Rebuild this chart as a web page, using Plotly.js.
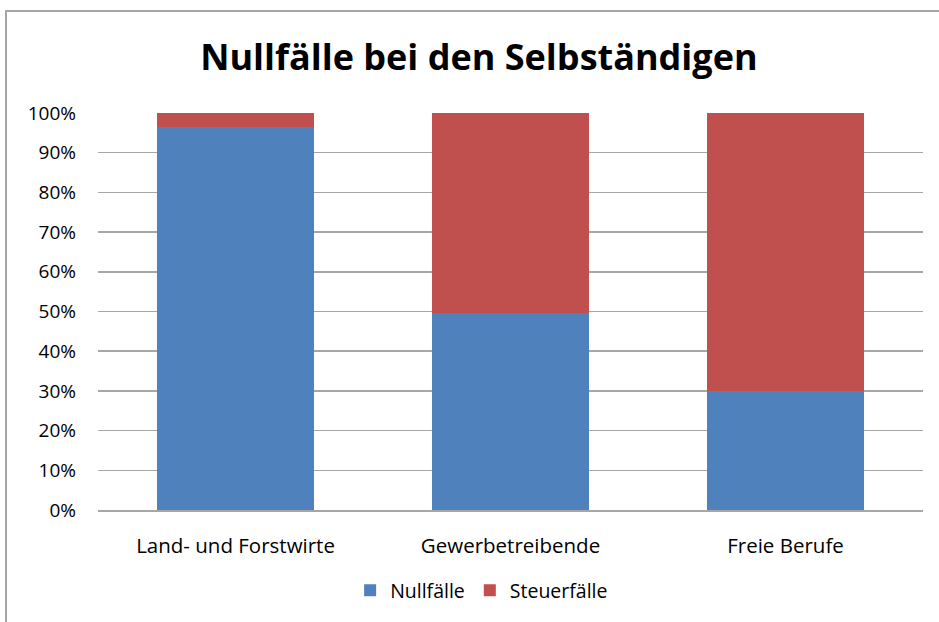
<!DOCTYPE html>
<html>
<head>
<meta charset="utf-8">
<script src="https://cdn.plot.ly/plotly-3.0.1.min.js"></script>
<style>
html,body{margin:0;padding:0;background:#fff;}
#wrap{position:relative;width:939px;height:622px;}
#chart{width:939px;height:622px;}
#frame{position:absolute;left:5px;top:10px;width:950px;height:640px;border-left:2px solid #a6a6a6;border-top:2px solid #a6a6a6;pointer-events:none;}
</style>
</head>
<body>
<div id="wrap"><div id="chart"></div><div id="frame"></div></div>
<script>
const categories = ["Land- und Forstwirte", "Gewerbetreibende", "Freie Berufe"];
const nullfaelle = [96.5, 49.6, 30.0];
const steuerfaelle = [3.5, 50.4, 70.0];
const seriesNames = ["Nullfälle", "Steuerfälle"];
const yTickVals = [0,10,20,30,40,50,60,70,80,90,100];
const yTickText = ["0%","10%","20%","30%","40%","50%","60%","70%","80%","90%","100%"];

const font = "Open Sans, Liberation Sans, sans-serif";
const traces = [
  {type:"bar", name:seriesNames[0], x:categories, y:nullfaelle, marker:{color:"#4f81bd", line:{width:0}}},
  {type:"bar", name:seriesNames[1], x:categories, y:steuerfaelle, marker:{color:"#c0504d", line:{width:0}}}
];
const layout = {
  width:939, height:622,
  paper_bgcolor:"#fff", plot_bgcolor:"#fff",
  barmode:"stack", bargap:0.43,
  margin:{l:98, r:16, t:113, b:110},
  title:{text:"<b>Nullfälle bei den Selbständigen</b>", font:{family:font, size:36, color:"#000"}, x:0.51, xanchor:"center", y:0.907, yanchor:"middle"},
  xaxis:{showgrid:false, showline:true, linecolor:"#a6a6a6", linewidth:2, ticks:"", tickfont:{family:font, size:20.5, color:"#000"}, ticklabelstandoff:16, fixedrange:true},
  yaxis:{range:[0,100], tickvals:yTickVals, ticktext:yTickText, showgrid:true, gridcolor:"#a6a6a6", gridwidth:1.5, zeroline:false, showline:false, ticks:"", tickfont:{family:font, size:19, color:"#000"}, ticklabelstandoff:21, fixedrange:true},
  showlegend:true,
  legend:{orientation:"h", x:0.465, xanchor:"center", y:-0.203, yanchor:"middle", font:{family:font, size:19.5, color:"#000"}, itemwidth:30, traceorder:"normal"}
};
Plotly.newPlot("chart", traces, layout, {displayModeBar:false, staticPlot:true});
</script>
</body>
</html>
